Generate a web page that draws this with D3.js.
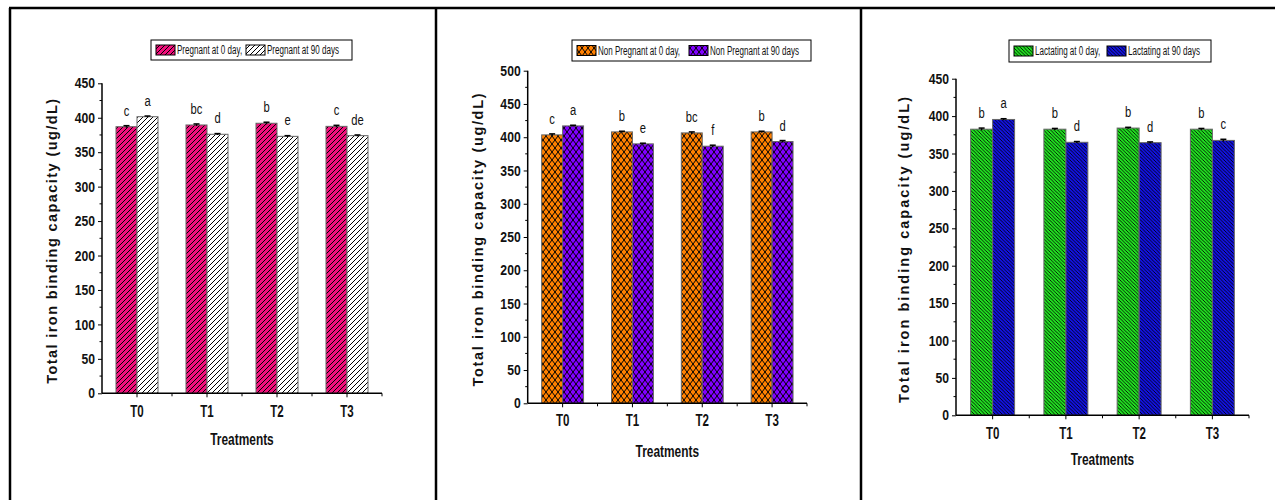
<!DOCTYPE html>
<html lang="en">
<head>
  <meta charset="UTF-8">
  <title>Total iron binding capacity</title>
  <script src="https://d3js.org/d3.v7.min.js"></script>
  <style>
    body { margin: 0; background: #fff; }
    svg { display: block; }
    text { font-family: "Liberation Sans", Arial, sans-serif; }
  </style>
</head>
<body>
<svg width="1275" height="500"></svg>
<script>
  // ---- data ----
  const treatments = ["T0", "T1", "T2", "T3"];

  const pregnant0 = [387, 389.5, 392, 387.5];
  const pregnant90 = [401.5, 376, 373, 374];
  const pregnant0Err = [1.5, 1.5, 1.5, 1.5];
  const pregnant90Err = [1, 1, 1, 1];
  const pregnant0Letters = ["c", "bc", "b", "c"];
  const pregnant90Letters = ["a", "d", "e", "de"];

  const nonPregnant0 = [403.5, 408, 406.5, 408];
  const nonPregnant90 = [417, 390, 386.5, 393.5];
  const nonPregnant0Err = [1.5, 1, 1.5, 1];
  const nonPregnant90Err = [1, 1, 1.5, 1.5];
  const nonPregnant0Letters = ["c", "b", "bc", "b"];
  const nonPregnant90Letters = ["a", "e", "f", "d"];

  const lactating0 = [382.5, 382.5, 384, 382.5];
  const lactating90 = [395.5, 365, 364.5, 367.5];
  const lactating0Err = [1.5, 1, 1, 1];
  const lactating90Err = [1, 1, 1, 1.5];
  const lactating0Letters = ["b", "b", "b", "b"];
  const lactating90Letters = ["a", "d", "d", "c"];

  const yTicks450 = [0, 50, 100, 150, 200, 250, 300, 350, 400, 450];
  const yTicks500 = [0, 50, 100, 150, 200, 250, 300, 350, 400, 450, 500];

  const svg = d3.select("svg");
  const defs = svg.append("defs");

  // squeeze text horizontally (the original uses a condensed face)
  function narrow(sel, f) {
    sel.each(function () {
      const w = this.getComputedTextLength();
      d3.select(this).attr("textLength", w * f).attr("lengthAdjust", "spacingAndGlyphs");
    });
  }

  // ---- fill patterns ----
  function hatch(id, bg, size, dir, sw) {
    const p = defs.append("pattern").attr("id", id)
      .attr("patternUnits", "userSpaceOnUse")
      .attr("width", size).attr("height", size);
    p.append("rect").attr("width", size).attr("height", size).attr("fill", bg);
    const d = dir === "/"
      ? `M0,${size} L${size},0 M${-size},${size} L0,0 M${size},${2 * size} L${2 * size},${size}`
      : `M0,0 L${size},${size} M${-size},0 L0,${size} M${size},0 L${2 * size},${size}`;
    p.append("path").attr("d", d).attr("stroke", "#000").attr("stroke-width", sw);
  }
  function cross(id, bg) {
    const w = 6, h = 8;
    const p = defs.append("pattern").attr("id", id)
      .attr("patternUnits", "userSpaceOnUse")
      .attr("width", w).attr("height", h);
    p.append("rect").attr("width", w).attr("height", h).attr("fill", bg);
    p.append("path")
      .attr("d", `M0,0 L${w},${h} M${w},0 L0,${h}`)
      .attr("stroke", "#000").attr("stroke-width", 1);
  }
  hatch("pinkHatch", "#f2107c", 5, "/", 1);
  hatch("whiteHatch", "#ffffff", 5, "/", 1);
  cross("orangeCross", "#ff8000");
  cross("purpleCross", "#8000ff");
  hatch("greenHatch", "#20e020", 3.5, "\\", 0.85);
  hatch("blueHatch", "#1212e0", 3.5, "\\", 0.85);

  // ---- panel frame ----
  const frame = svg.append("g").attr("stroke", "#000").attr("stroke-width", 2.5);
  frame.append("line").attr("x1", 9).attr("x2", 1275).attr("y1", 8).attr("y2", 8);
  [10, 436, 861].forEach(x =>
    frame.append("line").attr("x1", x).attr("x2", x).attr("y1", 8).attr("y2", 500));

  const panels = [
    {
      x0: 102, x1: 382, yBottom: 393.3, yTop: 83.3, yMax: 450, ticks: yTicks450,
      labelX: 52, labelLen: 285, xLabelY: 445, xTickY: 411,
      legend: { x: 151, y: 40, w: 201, h: 20, split: 246 },
      series: [
        { name: "Pregnant at 0 day,", values: pregnant0, err: pregnant0Err, letters: pregnant0Letters, fill: "url(#pinkHatch)" },
        { name: "Pregnant at 90 days", values: pregnant90, err: pregnant90Err, letters: pregnant90Letters, fill: "url(#whiteHatch)" }
      ]
    },
    {
      x0: 527.7, x1: 807, yBottom: 403.3, yTop: 70.7, yMax: 500, ticks: yTicks500,
      labelX: 478, labelLen: 293, xLabelY: 457, xTickY: 420,
      legend: { x: 572, y: 40, w: 239, h: 21, split: 689 },
      series: [
        { name: "Non Pregnant at 0 day,", values: nonPregnant0, err: nonPregnant0Err, letters: nonPregnant0Letters, fill: "url(#orangeCross)" },
        { name: "Non Pregnant at 90 days", values: nonPregnant90, err: nonPregnant90Err, letters: nonPregnant90Letters, fill: "url(#purpleCross)" }
      ]
    },
    {
      x0: 956, x1: 1249, yBottom: 415.3, yTop: 78.7, yMax: 450, ticks: yTicks450,
      labelX: 904, labelLen: 306, xLabelY: 465, xTickY: 433,
      legend: { x: 1009, y: 40, w: 202, h: 22, split: 1107 },
      series: [
        { name: "Lactating at 0 day,", values: lactating0, err: lactating0Err, letters: lactating0Letters, fill: "url(#greenHatch)" },
        { name: "Lactating at 90 days", values: lactating90, err: lactating90Err, letters: lactating90Letters, fill: "url(#blueHatch)" }
      ]
    }
  ];

  panels.forEach(drawPanel);

  function drawPanel(p) {
    const g = svg.append("g");
    const x = d3.scaleBand().domain(treatments).range([p.x0, p.x1]);
    const inner = d3.scaleBand().domain(d3.range(p.series.length))
      .range([-x.bandwidth() * 0.3, x.bandwidth() * 0.3]);
    const y = d3.scaleLinear().domain([0, p.yMax]).range([p.yBottom, p.yTop]);

    // bars
    p.series.forEach((s, si) => {
      const cx = t => x(t) + x.bandwidth() / 2 + inner(si);
      g.append("g").selectAll("rect")
        .data(treatments)
        .join("rect")
        .attr("x", t => cx(t))
        .attr("width", inner.bandwidth())
        .attr("y", (t, i) => y(s.values[i]))
        .attr("height", (t, i) => y(0) - y(s.values[i]))
        .attr("fill", s.fill)
        .attr("stroke", "#666")
        .attr("stroke-width", 1);

      // error bars
      const eb = g.append("g").attr("stroke", "#000").attr("stroke-width", 1.5);
      treatments.forEach((t, i) => {
        const mx = cx(t) + inner.bandwidth() / 2;
        const hi = y(s.values[i] + s.err[i]), lo = y(s.values[i] - s.err[i]);
        eb.append("line").attr("x1", mx).attr("x2", mx).attr("y1", hi).attr("y2", lo);
        eb.append("line").attr("x1", mx - 3).attr("x2", mx + 3).attr("y1", hi).attr("y2", hi);
      });

      // significance letters
      g.append("g").selectAll("text")
        .data(treatments)
        .join("text")
        .attr("x", t => cx(t) + inner.bandwidth() / 2)
        .attr("y", (t, i) => y(s.values[i]) - 11)
        .attr("text-anchor", "middle")
        .attr("font-size", 14)
        .attr("fill", "#111")
        .text((t, i) => s.letters[i])
        .call(narrow, 0.8);
    });

    // y axis
    const yAxis = g.append("g")
      .attr("transform", `translate(${p.x0},0)`)
      .call(d3.axisLeft(y).tickValues(p.ticks).tickSize(4).tickPadding(3));
    const minor = d3.range(25, p.yMax, 50);
    yAxis.selectAll(".minor").data(minor).join("line")
      .attr("class", "minor").attr("x1", 0).attr("x2", -2.5)
      .attr("y1", d => y(d)).attr("y2", d => y(d)).attr("stroke", "#000");
    yAxis.select(".domain").attr("d", `M0,${p.yBottom}V${p.yTop}`).attr("stroke-width", 1.5);
    yAxis.selectAll(".tick text")
      .attr("font-family", "Liberation Sans, Arial, sans-serif")
      .attr("font-size", 14.5).attr("font-weight", "bold").attr("fill", "#111")
      .call(narrow, 0.84);

    // x axis
    const xAxis = g.append("g")
      .attr("transform", `translate(0,${p.yBottom})`)
      .call(d3.axisBottom(x).tickSize(4).tickPadding(8).tickSizeOuter(0));
    xAxis.select(".domain").attr("d", `M${p.x0},0H${p.x1}`).attr("stroke-width", 1.5);
    xAxis.selectAll(".minor").data(treatments).join("line")
      .attr("class", "minor")
      .attr("x1", (d, i) => p.x0 + x.step() * (i + 1))
      .attr("x2", (d, i) => p.x0 + x.step() * (i + 1))
      .attr("y1", 0).attr("y2", 3).attr("stroke", "#000");
    xAxis.selectAll(".tick text")
      .attr("font-family", "Liberation Sans, Arial, sans-serif")
      .attr("font-size", 16).attr("font-weight", "bold").attr("fill", "#111")
      .attr("y", p.xTickY - p.yBottom).attr("dy", "0.35em")
      .call(narrow, 0.72);

    // axis titles
    const ymid = (p.yBottom + p.yTop) / 2 + 3;
    g.append("text")
      .attr("transform", `translate(${p.labelX + 5},${ymid}) rotate(-90)`)
      .attr("text-anchor", "middle")
      .attr("font-size", 14.5).attr("font-weight", "bold")
      .attr("textLength", p.labelLen).attr("lengthAdjust", "spacing")
      .attr("fill", "#111")
      .text("Total iron binding capacity (ug/dL)");
    g.append("text")
      .attr("x", (p.x0 + p.x1) / 2).attr("y", p.xLabelY)
      .attr("text-anchor", "middle").attr("font-size", 17).attr("font-weight", "bold")
      .attr("fill", "#111")
      .text("Treatments")
      .call(narrow, 0.7);

    // legend
    const L = p.legend;
    const lg = g.append("g");
    lg.append("rect").attr("x", L.x).attr("y", L.y).attr("width", L.w).attr("height", L.h)
      .attr("fill", "#fff").attr("stroke", "#000").attr("stroke-width", 1);
    const starts = [L.x + 5, L.split];
    p.series.forEach((s, si) => {
      lg.append("rect").attr("x", starts[si]).attr("y", L.y + L.h / 2 - 5)
        .attr("width", 19).attr("height", 10)
        .attr("fill", s.fill).attr("stroke", "#000").attr("stroke-width", 1);
      lg.append("text")
        .attr("x", starts[si] + 21).attr("y", L.y + L.h / 2).attr("dy", "0.35em")
        .attr("font-size", 12).attr("fill", "#111")
        .text(s.name)
        .call(narrow, 0.67);
    });
  }
</script>
</body>
</html>
